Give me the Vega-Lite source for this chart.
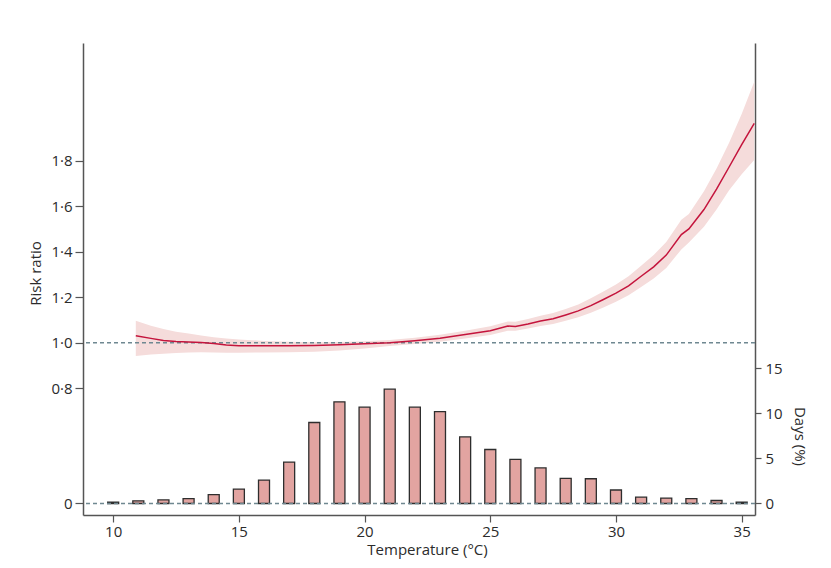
{
  "$schema": "https://vega.github.io/schema/vega-lite/v6.json",
  "width": 672,
  "height": 472,
  "autosize": {"type": "none"},
  "padding": {"left": 83, "top": 43, "right": 76, "bottom": 53},
  "background": "white",
  "config": {
    "view": {"stroke": null},
    "font": "Open Sans",
    "axis": {
      "grid": false,
      "labelFont": "Open Sans",
      "labelFontSize": 15,
      "labelColor": "#2b2b2b",
      "titleFont": "Open Sans",
      "titleFontSize": 15,
      "titleFontWeight": "normal",
      "titleColor": "#2b2b2b",
      "domainColor": "#555555",
      "domainWidth": 1.5,
      "tickColor": "#555555",
      "tickWidth": 1.2
    }
  },
  "datasets": {
    "curve": [
      {"t": 10.9, "rr": 1.031, "lo": 0.942, "hi": 1.097},
      {"t": 11.5, "rr": 1.019, "lo": 0.948, "hi": 1.075},
      {"t": 12.0, "rr": 1.010, "lo": 0.952, "hi": 1.060},
      {"t": 12.5, "rr": 1.005, "lo": 0.955, "hi": 1.048},
      {"t": 13.0, "rr": 1.003, "lo": 0.957, "hi": 1.040},
      {"t": 13.5, "rr": 1.001, "lo": 0.958, "hi": 1.032},
      {"t": 14.0, "rr": 0.996, "lo": 0.957, "hi": 1.024},
      {"t": 14.5, "rr": 0.990, "lo": 0.956, "hi": 1.018},
      {"t": 15.0, "rr": 0.987, "lo": 0.956, "hi": 1.014},
      {"t": 16.0, "rr": 0.987, "lo": 0.957, "hi": 1.008},
      {"t": 17.0, "rr": 0.987, "lo": 0.958, "hi": 1.004},
      {"t": 18.0, "rr": 0.988, "lo": 0.960, "hi": 1.002},
      {"t": 19.0, "rr": 0.991, "lo": 0.966, "hi": 1.003},
      {"t": 20.0, "rr": 0.995, "lo": 0.975, "hi": 1.006},
      {"t": 21.0, "rr": 1.000, "lo": 0.985, "hi": 1.012},
      {"t": 22.0, "rr": 1.009, "lo": 0.994, "hi": 1.022},
      {"t": 23.0, "rr": 1.020, "lo": 1.004, "hi": 1.035},
      {"t": 24.0, "rr": 1.036, "lo": 1.018, "hi": 1.053},
      {"t": 25.0, "rr": 1.053, "lo": 1.034, "hi": 1.072},
      {"t": 25.7, "rr": 1.073, "lo": 1.052, "hi": 1.093},
      {"t": 26.0, "rr": 1.071, "lo": 1.052, "hi": 1.092},
      {"t": 26.5, "rr": 1.082, "lo": 1.062, "hi": 1.104},
      {"t": 27.0, "rr": 1.095, "lo": 1.073, "hi": 1.118},
      {"t": 27.5, "rr": 1.105, "lo": 1.082, "hi": 1.130},
      {"t": 28.0, "rr": 1.122, "lo": 1.097, "hi": 1.148},
      {"t": 28.5, "rr": 1.140, "lo": 1.112, "hi": 1.168},
      {"t": 29.0, "rr": 1.163, "lo": 1.132, "hi": 1.195},
      {"t": 29.5, "rr": 1.190, "lo": 1.155, "hi": 1.225},
      {"t": 30.0, "rr": 1.218, "lo": 1.180, "hi": 1.256},
      {"t": 30.5, "rr": 1.250, "lo": 1.208, "hi": 1.292},
      {"t": 31.0, "rr": 1.292, "lo": 1.245, "hi": 1.338},
      {"t": 31.5, "rr": 1.333, "lo": 1.282, "hi": 1.385},
      {"t": 32.0, "rr": 1.385, "lo": 1.328, "hi": 1.443},
      {"t": 32.6, "rr": 1.475, "lo": 1.410, "hi": 1.540},
      {"t": 32.9, "rr": 1.500, "lo": 1.440, "hi": 1.565},
      {"t": 33.5, "rr": 1.585, "lo": 1.510, "hi": 1.665},
      {"t": 34.0, "rr": 1.675, "lo": 1.585, "hi": 1.765},
      {"t": 34.5, "rr": 1.772, "lo": 1.670, "hi": 1.878},
      {"t": 35.0, "rr": 1.870, "lo": 1.740, "hi": 2.005},
      {"t": 35.5, "rr": 1.964, "lo": 1.803, "hi": 2.147}
    ],
    "bars": [
      {"t": 10, "days": 0.16},
      {"t": 11, "days": 0.3},
      {"t": 12, "days": 0.4},
      {"t": 13, "days": 0.55},
      {"t": 14, "days": 0.98},
      {"t": 15, "days": 1.6},
      {"t": 16, "days": 2.6},
      {"t": 17, "days": 4.6},
      {"t": 18, "days": 9.0},
      {"t": 19, "days": 11.3},
      {"t": 20, "days": 10.7},
      {"t": 21, "days": 12.7},
      {"t": 22, "days": 10.7},
      {"t": 23, "days": 10.2},
      {"t": 24, "days": 7.4},
      {"t": 25, "days": 6.0},
      {"t": 26, "days": 4.9},
      {"t": 27, "days": 3.95},
      {"t": 28, "days": 2.8},
      {"t": 29, "days": 2.75},
      {"t": 30, "days": 1.5},
      {"t": 31, "days": 0.7},
      {"t": 32, "days": 0.6},
      {"t": 33, "days": 0.55},
      {"t": 34, "days": 0.33},
      {"t": 35, "days": 0.16}
    ],
    "ref1": [{"v": 1.0}],
    "ref0": [{"v": 0}]
  },
  "layer": [
    {
      "layer": [
        {
          "data": {"name": "curve"},
          "mark": {"type": "area", "color": "#f5dcdb", "opacity": 1},
          "encoding": {
            "x": {"field": "t", "type": "quantitative", "scale": {"domain": [8.8, 35.53], "nice": false, "zero": false, "padding": 0},
              "axis": {"values": [10, 15, 20, 25, 30, 35], "title": "Temperature (°C)", "tickSize": 7, "labelPadding": 2, "titlePadding": 3, "titleX": 344}},
            "y": {"field": "lo", "type": "quantitative", "scale": {"domain": [0.243, 2.3168], "nice": false, "zero": false},
              "axis": {"values": [0.2957, 0.8, 1.0, 1.2, 1.4, 1.6, 1.8], "labelExpr": "datum.value < 0.5 ? '0' : replace(format(datum.value, '.1f'), '.', '·')", "title": "Risk ratio", "tickSize": 8, "labelPadding": 3, "titlePadding": 7, "titleY": 230}},
            "y2": {"field": "hi"}
          }
        },
        {
          "data": {"name": "ref1"},
          "mark": {"type": "rule", "color": "#6f8891", "strokeDash": [4, 3], "strokeWidth": 1.5},
          "encoding": {"y": {"field": "v", "type": "quantitative"}}
        },
        {
          "data": {"name": "curve"},
          "mark": {"type": "line", "color": "#c4143c", "strokeWidth": 1.5},
          "encoding": {
            "x": {"field": "t", "type": "quantitative"},
            "y": {"field": "rr", "type": "quantitative"}
          }
        }
      ]
    },
    {
      "layer": [
        {
          "data": {"name": "bars"},
          "mark": {"type": "bar", "size": 11, "fill": "#e2a4a1", "stroke": "#2e2e2e", "strokeWidth": 1.3},
          "encoding": {
            "x": {"field": "t", "type": "quantitative"},
            "y": {"field": "days", "type": "quantitative", "scale": {"domain": [-1.28, 51.17], "nice": false, "zero": false},
              "axis": {"orient": "right", "values": [0, 5, 10, 15], "title": "Days (%)", "tickSize": 6, "labelPadding": 4, "titlePadding": 9, "titleY": 393}}
          }
        },
        {
          "data": {"name": "ref0"},
          "mark": {"type": "rule", "color": "#6f8891", "strokeDash": [4, 3], "strokeWidth": 1.5},
          "encoding": {"y": {"field": "v", "type": "quantitative"}}
        }
      ]
    }
  ],
  "resolve": {"scale": {"y": "independent"}}
}
